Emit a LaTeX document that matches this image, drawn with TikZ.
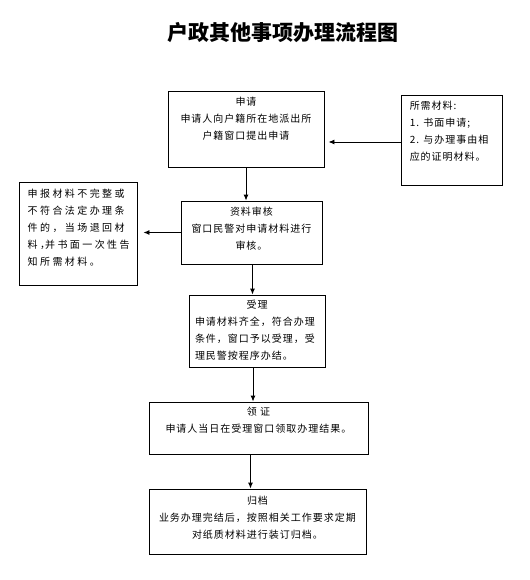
\documentclass[tikz,border=0pt]{standalone}
\usepackage{fontspec}
\newfontfamily\cjk[LetterSpace=10]{Noto Sans CJK SC}
\newfontfamily\cjkwide[LetterSpace=24]{Noto Sans CJK SC}
\newfontfamily\cjktitle{Noto Sans CJK SC}
\usetikzlibrary{positioning,arrows.meta}

\begin{document}
\begin{tikzpicture}[x=1bp, y=-1bp, >={Latex[length=6bp,width=5bp]}]
    \tikzset{
        box/.style={draw, line width=0.9bp, inner sep=0pt},
        txt/.style={inner sep=0pt, align=center, font=\cjk\fontsize{10bp}{17bp}\selectfont},
        flow/.style={->, line width=0.9bp}
    }
    \useasboundingbox (0,0) rectangle (530,580);

    % Title
    \node[font=\cjktitle\bfseries\fontsize{21bp}{24bp}\selectfont] (title) at (283,33) {户政其他事项办理流程图};

    % Main column
    \node[box, minimum width=156bp, minimum height=76bp] (apply) at (246,129) {};
    \node[txt, below=6bp of apply.north] (applytext) {申请\\申请人向户籍所在地派出所\\户籍窗口提出申请};

    \node[box, minimum width=141bp, minimum height=63bp] (check) at (251.5,232.5) {};
    \node[txt, below=6bp of check.north] (checktext) {资料审核\\窗口民警对申请材料进行\\审核。};

    \node[box, minimum width=136bp, minimum height=72bp] (accept) at (257,331) {};
    \node[txt, align=left, text width=124bp, below=5bp of accept.north] (accepttext) {\makebox[124bp]{受理}\\申请材料齐全，符合办理\\条件，窗口予以受理，受\\理民警按程序办结。};

    \node[box, minimum width=219bp, minimum height=52bp] (issue) at (258.5,428) {};
    \node[txt, below=5bp of issue.north] (issuetext) {领 证\\申请人当日在受理窗口领取办理结果。};

    \node[box, minimum width=217bp, minimum height=65bp] (archive) at (257.5,521.5) {};
    \node[txt, below=7bp of archive.north] (archivetext) {归档\\业务办理完结后，按照相关工作要求定期\\对纸质材料进行装订归档。};

    % Side boxes
    \node[box, minimum width=101bp, minimum height=90bp] (materials) at (451.5,140) {};
    \node[txt, align=left, below right=6bp and 9bp of materials.north west] (materialstext) {所需材料:\\1. 书面申请;\\2. 与办理事由相\\应的证明材料。};

    \node[box, minimum width=118bp, minimum height=103bp] (reject) at (78,233.5) {};
    \node[txt, align=left, font=\cjkwide\fontsize{10bp}{17bp}\selectfont, below right=7bp and 9bp of reject.north west] (rejecttext) {申报材料不完整或\\不符合法定办理条\\件的，当场退回材\\料，\kern-5bp 并书面一次性告\\知所需材料。};

    % Connectors
    \draw[flow] (apply.south) -- (apply.south |- check.north);
    \draw[flow] ([xshift=1bp]check.south) -- ([xshift=1bp]check.south |- accept.north);
    \draw[flow] ([xshift=-4bp]accept.south) -- ([xshift=-4bp]accept.south |- issue.north);
    \draw[flow] ([xshift=-8bp]issue.south) -- ([xshift=-8bp]issue.south |- archive.north);
    \draw[flow, shorten >=4bp] ([yshift=-2bp]materials.west) -- ([yshift=-2bp]materials.west -| apply.east);
    \draw[flow, shorten >=6bp] (check.west) -- (check.west -| reject.east);
\end{tikzpicture}
\end{document}
